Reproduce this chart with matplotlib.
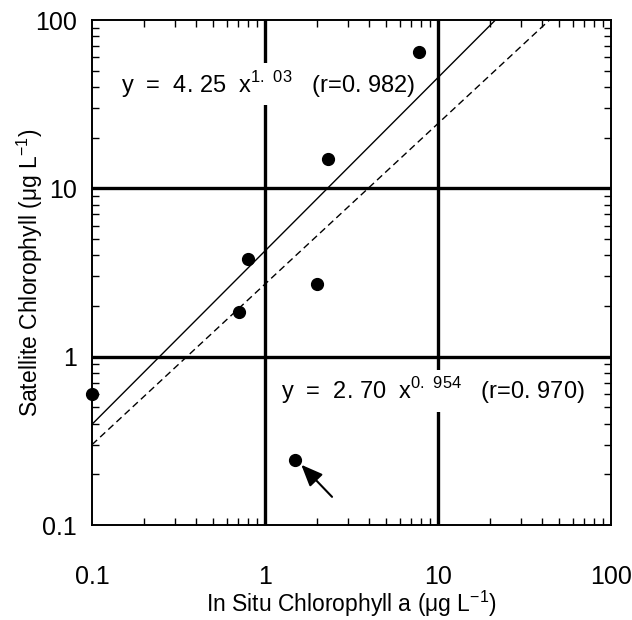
import numpy as np
import matplotlib
matplotlib.use("Agg")
import matplotlib.pyplot as plt
from matplotlib.ticker import LogLocator, NullFormatter, FixedLocator, FixedFormatter

plt.rcParams["font.family"] = ["Liberation Sans", "DejaVu Sans"]
plt.rcParams["mathtext.fontset"] = "custom"
plt.rcParams["mathtext.rm"] = "Liberation Sans"
plt.rcParams["mathtext.sf"] = "Liberation Sans"

# data
in_situ = [0.10, 0.71, 0.80, 1.50, 2.00, 2.31, 7.8]
satellite = [0.60, 1.85, 3.83, 0.245, 2.72, 15.0, 65.0]

fit1_a, fit1_b = 4.25, 1.03
fit2_a, fit2_b = 2.70, 0.954

tick_vals = [0.1, 1, 10, 100]
tick_labels = ["0.1", "1", "10", "100"]

fig = plt.figure(figsize=(6.32, 6.2), dpi=100)
ax = fig.add_axes([0.1456, 0.1532, 0.8212, 0.8145])

ax.set_xscale("log")
ax.set_yscale("log")
ax.set_xlim(0.1, 100)
ax.set_ylim(0.1, 100)

xx = np.logspace(-1, 2, 200)
ax.plot(xx, fit1_a * xx**fit1_b, color="black", lw=1.0, zorder=3)
ax.plot(xx, fit2_a * xx**fit2_b, color="black", lw=1.0, ls=(0, (5, 3)), zorder=3)

ax.plot(in_situ, satellite, "o", color="black", ms=8.5, clip_on=False, zorder=4)

for v in [1, 10]:
    ax.axvline(v, color="black", lw=2.4, zorder=1)
    ax.axhline(v, color="black", lw=2.4, zorder=1)

for s in ax.spines.values():
    s.set_linewidth(1.4)

for axis in (ax.xaxis, ax.yaxis):
    axis.set_major_locator(FixedLocator(tick_vals))
    axis.set_major_formatter(FixedFormatter(tick_labels))
    axis.set_minor_locator(LogLocator(base=10, subs=np.arange(2, 10)))
    axis.set_minor_formatter(NullFormatter())

ax.tick_params(which="both", direction="in", top=True, right=True, color="black")
ax.tick_params(which="major", length=0, labelsize=18)
ax.tick_params(which="minor", length=5, width=1.0)
ax.tick_params(axis="x", which="major", pad=29)
ax.tick_params(axis="y", which="major", pad=11)

ax.set_xlabel("In Situ Chlorophyll a (\u03bcg L$^{-1}$)", fontsize=16.5)
ax.set_ylabel("Satellite Chlorophyll (\u03bcg L$^{-1}$)", fontsize=16.5)
ax.xaxis.label.set_va("center")
ax.yaxis.label.set_va("center")
ax.xaxis.set_label_coords(0.5, -0.156)
ax.yaxis.set_label_coords(-0.120, 0.5)

box = dict(facecolor="white", edgecolor="none", pad=4)
ax.text(0.147, 41.6, "y  =  4. 25  x$^{\\mathsf{1.\\ 03}}$   (r=0. 982)",
        fontsize=17, va="center", ha="left", bbox=box, zorder=2)
ax.text(1.24, 0.628, "y  =  2. 70  x$^{\\mathsf{0.\\ 954}}$   (r=0. 970)",
        fontsize=17, va="center", ha="left", bbox=box, zorder=2)

ax.annotate("", xy=(1.62, 0.228), xytext=(2.44, 0.147),
            arrowprops=dict(arrowstyle="-|>,head_length=0.6,head_width=0.25",
                            color="black", lw=1.5, mutation_scale=22,
                            shrinkA=0, shrinkB=0), zorder=5)

fig.savefig("out.png", dpi=100)
